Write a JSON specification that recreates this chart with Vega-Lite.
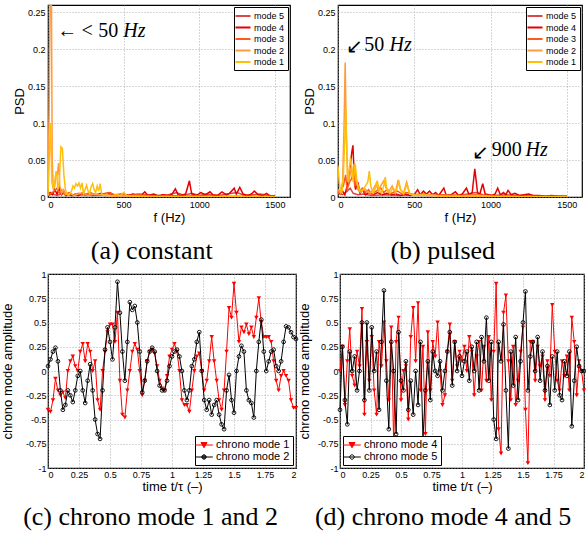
{
"$schema": "https://vega.github.io/schema/vega-lite/v6.json",
"background": "white",
"padding": {"left": 0, "top": 4, "right": 2, "bottom": 2},
"datasets": {
"psdA": [
{"f":0,"mode":"mode 5","psd":0.002},{"f":30,"mode":"mode 5","psd":0.004},{"f":60,"mode":"mode 5","psd":0.002},{"f":100,"mode":"mode 5","psd":0.005},{"f":150,"mode":"mode 5","psd":0.002},{"f":200,"mode":"mode 5","psd":0.003},{"f":300,"mode":"mode 5","psd":0.002},{"f":400,"mode":"mode 5","psd":0.003},{"f":500,"mode":"mode 5","psd":0.002},{"f":600,"mode":"mode 5","psd":0.004},{"f":700,"mode":"mode 5","psd":0.002},{"f":800,"mode":"mode 5","psd":0.003},{"f":850,"mode":"mode 5","psd":0.006},{"f":900,"mode":"mode 5","psd":0.002},{"f":950,"mode":"mode 5","psd":0.005},{"f":1000,"mode":"mode 5","psd":0.002},{"f":1050,"mode":"mode 5","psd":0.004},{"f":1100,"mode":"mode 5","psd":0.002},{"f":1150,"mode":"mode 5","psd":0.003},{"f":1250,"mode":"mode 5","psd":0.006},{"f":1300,"mode":"mode 5","psd":0.002},{"f":1400,"mode":"mode 5","psd":0.004},{"f":1500,"mode":"mode 5","psd":0.001},
{"f":0,"mode":"mode 4","psd":0.004},{"f":15,"mode":"mode 4","psd":0.006},{"f":30,"mode":"mode 4","psd":0.003},{"f":45,"mode":"mode 4","psd":0.01},{"f":60,"mode":"mode 4","psd":0.004},{"f":75,"mode":"mode 4","psd":0.012},{"f":90,"mode":"mode 4","psd":0.003},{"f":105,"mode":"mode 4","psd":0.008},{"f":120,"mode":"mode 4","psd":0.002},{"f":140,"mode":"mode 4","psd":0.005},{"f":160,"mode":"mode 4","psd":0.002},{"f":180,"mode":"mode 4","psd":0.004},{"f":200,"mode":"mode 4","psd":0.002},{"f":230,"mode":"mode 4","psd":0.006},{"f":260,"mode":"mode 4","psd":0.002},{"f":290,"mode":"mode 4","psd":0.004},{"f":320,"mode":"mode 4","psd":0.003},{"f":350,"mode":"mode 4","psd":0.005},{"f":380,"mode":"mode 4","psd":0.002},{"f":410,"mode":"mode 4","psd":0.006},{"f":440,"mode":"mode 4","psd":0.002},{"f":470,"mode":"mode 4","psd":0.003},{"f":500,"mode":"mode 4","psd":0.004},{"f":530,"mode":"mode 4","psd":0.002},{"f":560,"mode":"mode 4","psd":0.004},{"f":590,"mode":"mode 4","psd":0.002},{"f":620,"mode":"mode 4","psd":0.003},{"f":640,"mode":"mode 4","psd":0.007},{"f":660,"mode":"mode 4","psd":0.002},{"f":700,"mode":"mode 4","psd":0.004},{"f":730,"mode":"mode 4","psd":0.001},{"f":760,"mode":"mode 4","psd":0.003},{"f":790,"mode":"mode 4","psd":0.002},{"f":820,"mode":"mode 4","psd":0.004},{"f":842,"mode":"mode 4","psd":0.011},{"f":860,"mode":"mode 4","psd":0.003},{"f":880,"mode":"mode 4","psd":0.002},{"f":910,"mode":"mode 4","psd":0.004},{"f":935,"mode":"mode 4","psd":0.022},{"f":950,"mode":"mode 4","psd":0.004},{"f":980,"mode":"mode 4","psd":0.002},{"f":1010,"mode":"mode 4","psd":0.006},{"f":1040,"mode":"mode 4","psd":0.003},{"f":1071,"mode":"mode 4","psd":0.007},{"f":1090,"mode":"mode 4","psd":0.003},{"f":1120,"mode":"mode 4","psd":0.002},{"f":1150,"mode":"mode 4","psd":0.007},{"f":1180,"mode":"mode 4","psd":0.003},{"f":1200,"mode":"mode 4","psd":0.005},{"f":1231,"mode":"mode 4","psd":0.012},{"f":1245,"mode":"mode 4","psd":0.004},{"f":1268,"mode":"mode 4","psd":0.013},{"f":1290,"mode":"mode 4","psd":0.004},{"f":1320,"mode":"mode 4","psd":0.002},{"f":1345,"mode":"mode 4","psd":0.004},{"f":1364,"mode":"mode 4","psd":0.008},{"f":1390,"mode":"mode 4","psd":0.003},{"f":1420,"mode":"mode 4","psd":0.002},{"f":1445,"mode":"mode 4","psd":0.005},{"f":1470,"mode":"mode 4","psd":0.001},{"f":1500,"mode":"mode 4","psd":0.002},
{"f":0,"mode":"mode 3","psd":0.003},{"f":20,"mode":"mode 3","psd":0.005},{"f":40,"mode":"mode 3","psd":0.008},{"f":60,"mode":"mode 3","psd":0.012},{"f":75,"mode":"mode 3","psd":0.005},{"f":90,"mode":"mode 3","psd":0.009},{"f":110,"mode":"mode 3","psd":0.003},{"f":140,"mode":"mode 3","psd":0.006},{"f":170,"mode":"mode 3","psd":0.002},{"f":200,"mode":"mode 3","psd":0.005},{"f":240,"mode":"mode 3","psd":0.003},{"f":280,"mode":"mode 3","psd":0.006},{"f":320,"mode":"mode 3","psd":0.002},{"f":360,"mode":"mode 3","psd":0.004},{"f":400,"mode":"mode 3","psd":0.006},{"f":440,"mode":"mode 3","psd":0.003},{"f":480,"mode":"mode 3","psd":0.004},{"f":520,"mode":"mode 3","psd":0.002},{"f":600,"mode":"mode 3","psd":0.003},{"f":700,"mode":"mode 3","psd":0.001},{"f":800,"mode":"mode 3","psd":0.002},{"f":900,"mode":"mode 3","psd":0.001},{"f":1000,"mode":"mode 3","psd":0.002},{"f":1100,"mode":"mode 3","psd":0.001},{"f":1300,"mode":"mode 3","psd":0.001},{"f":1500,"mode":"mode 3","psd":0.001},
{"f":0,"mode":"mode 2","psd":0.02},{"f":8,"mode":"mode 2","psd":0.12},{"f":15,"mode":"mode 2","psd":0.3},{"f":22,"mode":"mode 2","psd":0.3},{"f":28,"mode":"mode 2","psd":0.05},{"f":35,"mode":"mode 2","psd":0.01},{"f":45,"mode":"mode 2","psd":0.015},{"f":55,"mode":"mode 2","psd":0.035},{"f":62,"mode":"mode 2","psd":0.03},{"f":70,"mode":"mode 2","psd":0.046},{"f":78,"mode":"mode 2","psd":0.015},{"f":90,"mode":"mode 2","psd":0.005},{"f":100,"mode":"mode 2","psd":0.01},{"f":115,"mode":"mode 2","psd":0.004},{"f":130,"mode":"mode 2","psd":0.003},{"f":150,"mode":"mode 2","psd":0.005},{"f":170,"mode":"mode 2","psd":0.002},{"f":200,"mode":"mode 2","psd":0.004},{"f":230,"mode":"mode 2","psd":0.006},{"f":260,"mode":"mode 2","psd":0.002},{"f":300,"mode":"mode 2","psd":0.004},{"f":350,"mode":"mode 2","psd":0.003},{"f":400,"mode":"mode 2","psd":0.002},{"f":450,"mode":"mode 2","psd":0.001},{"f":500,"mode":"mode 2","psd":0.002},{"f":600,"mode":"mode 2","psd":0.001},{"f":800,"mode":"mode 2","psd":0.0005},{"f":1000,"mode":"mode 2","psd":0.0003},{"f":1500,"mode":"mode 2","psd":0.0002},
{"f":0,"mode":"mode 1","psd":0.002},{"f":10,"mode":"mode 1","psd":0.06},{"f":18,"mode":"mode 1","psd":0.1},{"f":25,"mode":"mode 1","psd":0.02},{"f":35,"mode":"mode 1","psd":0.012},{"f":42,"mode":"mode 1","psd":0.016},{"f":50,"mode":"mode 1","psd":0.03},{"f":58,"mode":"mode 1","psd":0.035},{"f":65,"mode":"mode 1","psd":0.01},{"f":75,"mode":"mode 1","psd":0.02},{"f":85,"mode":"mode 1","psd":0.068},{"f":95,"mode":"mode 1","psd":0.066},{"f":105,"mode":"mode 1","psd":0.03},{"f":115,"mode":"mode 1","psd":0.01},{"f":125,"mode":"mode 1","psd":0.004},{"f":140,"mode":"mode 1","psd":0.003},{"f":155,"mode":"mode 1","psd":0.008},{"f":165,"mode":"mode 1","psd":0.015},{"f":175,"mode":"mode 1","psd":0.012},{"f":185,"mode":"mode 1","psd":0.018},{"f":195,"mode":"mode 1","psd":0.015},{"f":205,"mode":"mode 1","psd":0.019},{"f":215,"mode":"mode 1","psd":0.012},{"f":225,"mode":"mode 1","psd":0.019},{"f":235,"mode":"mode 1","psd":0.005},{"f":245,"mode":"mode 1","psd":0.01},{"f":255,"mode":"mode 1","psd":0.016},{"f":265,"mode":"mode 1","psd":0.008},{"f":275,"mode":"mode 1","psd":0.004},{"f":285,"mode":"mode 1","psd":0.014},{"f":295,"mode":"mode 1","psd":0.018},{"f":305,"mode":"mode 1","psd":0.01},{"f":315,"mode":"mode 1","psd":0.006},{"f":325,"mode":"mode 1","psd":0.015},{"f":335,"mode":"mode 1","psd":0.008},{"f":345,"mode":"mode 1","psd":0.018},{"f":355,"mode":"mode 1","psd":0.004},{"f":370,"mode":"mode 1","psd":0.002},{"f":390,"mode":"mode 1","psd":0.003},{"f":420,"mode":"mode 1","psd":0.001},{"f":450,"mode":"mode 1","psd":0.003},{"f":480,"mode":"mode 1","psd":0.002},{"f":500,"mode":"mode 1","psd":0.006},{"f":520,"mode":"mode 1","psd":0.002},{"f":560,"mode":"mode 1","psd":0.001},{"f":600,"mode":"mode 1","psd":0.001},{"f":700,"mode":"mode 1","psd":0.0005},{"f":800,"mode":"mode 1","psd":0.0005},{"f":1000,"mode":"mode 1","psd":0.0003},{"f":1200,"mode":"mode 1","psd":0.0003},{"f":1500,"mode":"mode 1","psd":0.0002}
],
"psdB": [
{"f":0,"mode":"mode 5","psd":0.005},{"f":30,"mode":"mode 5","psd":0.003},{"f":60,"mode":"mode 5","psd":0.008},{"f":80,"mode":"mode 5","psd":0.012},{"f":100,"mode":"mode 5","psd":0.005},{"f":130,"mode":"mode 5","psd":0.003},{"f":170,"mode":"mode 5","psd":0.004},{"f":220,"mode":"mode 5","psd":0.002},{"f":300,"mode":"mode 5","psd":0.003},{"f":400,"mode":"mode 5","psd":0.002},{"f":500,"mode":"mode 5","psd":0.003},{"f":600,"mode":"mode 5","psd":0.002},{"f":700,"mode":"mode 5","psd":0.003},{"f":800,"mode":"mode 5","psd":0.002},{"f":850,"mode":"mode 5","psd":0.004},{"f":900,"mode":"mode 5","psd":0.006},{"f":950,"mode":"mode 5","psd":0.003},{"f":1000,"mode":"mode 5","psd":0.002},{"f":1100,"mode":"mode 5","psd":0.003},{"f":1200,"mode":"mode 5","psd":0.002},{"f":1300,"mode":"mode 5","psd":0.001},{"f":1500,"mode":"mode 5","psd":0.001},
{"f":0,"mode":"mode 4","psd":0.01},{"f":15,"mode":"mode 4","psd":0.004},{"f":30,"mode":"mode 4","psd":0.008},{"f":45,"mode":"mode 4","psd":0.003},{"f":60,"mode":"mode 4","psd":0.015},{"f":75,"mode":"mode 4","psd":0.03},{"f":90,"mode":"mode 4","psd":0.06},{"f":98,"mode":"mode 4","psd":0.07},{"f":106,"mode":"mode 4","psd":0.03},{"f":115,"mode":"mode 4","psd":0.01},{"f":130,"mode":"mode 4","psd":0.02},{"f":145,"mode":"mode 4","psd":0.005},{"f":160,"mode":"mode 4","psd":0.01},{"f":180,"mode":"mode 4","psd":0.003},{"f":200,"mode":"mode 4","psd":0.006},{"f":230,"mode":"mode 4","psd":0.003},{"f":260,"mode":"mode 4","psd":0.006},{"f":290,"mode":"mode 4","psd":0.003},{"f":320,"mode":"mode 4","psd":0.005},{"f":350,"mode":"mode 4","psd":0.003},{"f":380,"mode":"mode 4","psd":0.004},{"f":410,"mode":"mode 4","psd":0.002},{"f":440,"mode":"mode 4","psd":0.004},{"f":470,"mode":"mode 4","psd":0.002},{"f":500,"mode":"mode 4","psd":0.003},{"f":522,"mode":"mode 4","psd":0.01},{"f":540,"mode":"mode 4","psd":0.003},{"f":560,"mode":"mode 4","psd":0.008},{"f":580,"mode":"mode 4","psd":0.004},{"f":600,"mode":"mode 4","psd":0.008},{"f":620,"mode":"mode 4","psd":0.003},{"f":640,"mode":"mode 4","psd":0.006},{"f":660,"mode":"mode 4","psd":0.002},{"f":694,"mode":"mode 4","psd":0.012},{"f":710,"mode":"mode 4","psd":0.002},{"f":740,"mode":"mode 4","psd":0.003},{"f":770,"mode":"mode 4","psd":0.007},{"f":790,"mode":"mode 4","psd":0.002},{"f":815,"mode":"mode 4","psd":0.004},{"f":842,"mode":"mode 4","psd":0.012},{"f":860,"mode":"mode 4","psd":0.003},{"f":880,"mode":"mode 4","psd":0.006},{"f":897,"mode":"mode 4","psd":0.038},{"f":915,"mode":"mode 4","psd":0.006},{"f":930,"mode":"mode 4","psd":0.004},{"f":949,"mode":"mode 4","psd":0.018},{"f":965,"mode":"mode 4","psd":0.004},{"f":990,"mode":"mode 4","psd":0.003},{"f":1010,"mode":"mode 4","psd":0.002},{"f":1030,"mode":"mode 4","psd":0.004},{"f":1047,"mode":"mode 4","psd":0.012},{"f":1065,"mode":"mode 4","psd":0.003},{"f":1085,"mode":"mode 4","psd":0.006},{"f":1100,"mode":"mode 4","psd":0.003},{"f":1115,"mode":"mode 4","psd":0.009},{"f":1135,"mode":"mode 4","psd":0.003},{"f":1160,"mode":"mode 4","psd":0.005},{"f":1190,"mode":"mode 4","psd":0.002},{"f":1220,"mode":"mode 4","psd":0.003},{"f":1250,"mode":"mode 4","psd":0.004},{"f":1280,"mode":"mode 4","psd":0.002},{"f":1320,"mode":"mode 4","psd":0.002},{"f":1360,"mode":"mode 4","psd":0.001},{"f":1400,"mode":"mode 4","psd":0.002},{"f":1450,"mode":"mode 4","psd":0.001},{"f":1500,"mode":"mode 4","psd":0.001},
{"f":0,"mode":"mode 3","psd":0.005},{"f":20,"mode":"mode 3","psd":0.01},{"f":35,"mode":"mode 3","psd":0.015},{"f":50,"mode":"mode 3","psd":0.03},{"f":60,"mode":"mode 3","psd":0.01},{"f":75,"mode":"mode 3","psd":0.02},{"f":90,"mode":"mode 3","psd":0.025},{"f":100,"mode":"mode 3","psd":0.035},{"f":110,"mode":"mode 3","psd":0.015},{"f":125,"mode":"mode 3","psd":0.02},{"f":140,"mode":"mode 3","psd":0.008},{"f":160,"mode":"mode 3","psd":0.012},{"f":180,"mode":"mode 3","psd":0.006},{"f":200,"mode":"mode 3","psd":0.01},{"f":220,"mode":"mode 3","psd":0.004},{"f":250,"mode":"mode 3","psd":0.008},{"f":280,"mode":"mode 3","psd":0.012},{"f":300,"mode":"mode 3","psd":0.006},{"f":320,"mode":"mode 3","psd":0.01},{"f":340,"mode":"mode 3","psd":0.004},{"f":360,"mode":"mode 3","psd":0.006},{"f":390,"mode":"mode 3","psd":0.008},{"f":420,"mode":"mode 3","psd":0.004},{"f":450,"mode":"mode 3","psd":0.006},{"f":500,"mode":"mode 3","psd":0.003},{"f":550,"mode":"mode 3","psd":0.004},{"f":600,"mode":"mode 3","psd":0.003},{"f":650,"mode":"mode 3","psd":0.002},{"f":700,"mode":"mode 3","psd":0.003},{"f":800,"mode":"mode 3","psd":0.002},{"f":900,"mode":"mode 3","psd":0.003},{"f":1000,"mode":"mode 3","psd":0.002},{"f":1100,"mode":"mode 3","psd":0.001},{"f":1300,"mode":"mode 3","psd":0.001},{"f":1500,"mode":"mode 3","psd":0.001},
{"f":0,"mode":"mode 2","psd":0.01},{"f":15,"mode":"mode 2","psd":0.005},{"f":30,"mode":"mode 2","psd":0.02},{"f":40,"mode":"mode 2","psd":0.1},{"f":47,"mode":"mode 2","psd":0.182},{"f":54,"mode":"mode 2","psd":0.09},{"f":62,"mode":"mode 2","psd":0.03},{"f":72,"mode":"mode 2","psd":0.02},{"f":85,"mode":"mode 2","psd":0.04},{"f":95,"mode":"mode 2","psd":0.03},{"f":105,"mode":"mode 2","psd":0.045},{"f":115,"mode":"mode 2","psd":0.03},{"f":130,"mode":"mode 2","psd":0.01},{"f":150,"mode":"mode 2","psd":0.006},{"f":170,"mode":"mode 2","psd":0.012},{"f":190,"mode":"mode 2","psd":0.008},{"f":210,"mode":"mode 2","psd":0.005},{"f":230,"mode":"mode 2","psd":0.01},{"f":250,"mode":"mode 2","psd":0.018},{"f":265,"mode":"mode 2","psd":0.008},{"f":280,"mode":"mode 2","psd":0.015},{"f":300,"mode":"mode 2","psd":0.022},{"f":315,"mode":"mode 2","psd":0.012},{"f":335,"mode":"mode 2","psd":0.008},{"f":355,"mode":"mode 2","psd":0.015},{"f":375,"mode":"mode 2","psd":0.005},{"f":395,"mode":"mode 2","psd":0.023},{"f":410,"mode":"mode 2","psd":0.01},{"f":430,"mode":"mode 2","psd":0.005},{"f":450,"mode":"mode 2","psd":0.02},{"f":470,"mode":"mode 2","psd":0.004},{"f":500,"mode":"mode 2","psd":0.003},{"f":550,"mode":"mode 2","psd":0.002},{"f":600,"mode":"mode 2","psd":0.003},{"f":700,"mode":"mode 2","psd":0.001},{"f":800,"mode":"mode 2","psd":0.001},{"f":1000,"mode":"mode 2","psd":0.0005},{"f":1500,"mode":"mode 2","psd":0.0003},
{"f":0,"mode":"mode 1","psd":0.042},{"f":8,"mode":"mode 1","psd":0.02},{"f":15,"mode":"mode 1","psd":0.01},{"f":25,"mode":"mode 1","psd":0.005},{"f":35,"mode":"mode 1","psd":0.03},{"f":45,"mode":"mode 1","psd":0.08},{"f":51,"mode":"mode 1","psd":0.121},{"f":58,"mode":"mode 1","psd":0.06},{"f":65,"mode":"mode 1","psd":0.02},{"f":75,"mode":"mode 1","psd":0.04},{"f":82,"mode":"mode 1","psd":0.053},{"f":90,"mode":"mode 1","psd":0.04},{"f":100,"mode":"mode 1","psd":0.02},{"f":113,"mode":"mode 1","psd":0.045},{"f":125,"mode":"mode 1","psd":0.02},{"f":140,"mode":"mode 1","psd":0.01},{"f":160,"mode":"mode 1","psd":0.008},{"f":180,"mode":"mode 1","psd":0.015},{"f":195,"mode":"mode 1","psd":0.02},{"f":205,"mode":"mode 1","psd":0.035},{"f":215,"mode":"mode 1","psd":0.015},{"f":230,"mode":"mode 1","psd":0.005},{"f":245,"mode":"mode 1","psd":0.012},{"f":257,"mode":"mode 1","psd":0.022},{"f":270,"mode":"mode 1","psd":0.01},{"f":285,"mode":"mode 1","psd":0.005},{"f":300,"mode":"mode 1","psd":0.015},{"f":310,"mode":"mode 1","psd":0.027},{"f":320,"mode":"mode 1","psd":0.01},{"f":340,"mode":"mode 1","psd":0.005},{"f":360,"mode":"mode 1","psd":0.012},{"f":380,"mode":"mode 1","psd":0.008},{"f":400,"mode":"mode 1","psd":0.02},{"f":410,"mode":"mode 1","psd":0.01},{"f":430,"mode":"mode 1","psd":0.004},{"f":452,"mode":"mode 1","psd":0.018},{"f":470,"mode":"mode 1","psd":0.004},{"f":500,"mode":"mode 1","psd":0.002},{"f":550,"mode":"mode 1","psd":0.003},{"f":600,"mode":"mode 1","psd":0.002},{"f":700,"mode":"mode 1","psd":0.001},{"f":800,"mode":"mode 1","psd":0.001},{"f":900,"mode":"mode 1","psd":0.002},{"f":1000,"mode":"mode 1","psd":0.001},{"f":1200,"mode":"mode 1","psd":0.0005},{"f":1500,"mode":"mode 1","psd":0.0003}
],
"notes": [
{"panel":"a","f":61,"psd":0.2165,"label":"←","style":"r"},
{"panel":"a","f":221,"psd":0.2165,"label":"<","style":"r"},
{"panel":"a","f":332,"psd":0.2165,"label":"50","style":"r"},
{"panel":"a","f":498,"psd":0.2165,"label":"Hz","style":"i"},
{"panel":"b","f":55,"psd":0.195,"label":"↙","style":"r"},
{"panel":"b","f":172,"psd":0.198,"label":"50","style":"r"},
{"panel":"b","f":338,"psd":0.198,"label":"Hz","style":"i"},
{"panel":"b","f":880,"psd":0.051,"label":"↙","style":"r"},
{"panel":"b","f":1008,"psd":0.055,"label":"900","style":"r"},
{"panel":"b","f":1230,"psd":0.055,"label":"Hz","style":"i"}
],
"chronoC": [
{"t":0,"s":"chrono mode 1","amp":-0.4},{"t":0.02,"s":"chrono mode 1","amp":-0.42},{"t":0.04,"s":"chrono mode 1","amp":-0.3},{"t":0.06,"s":"chrono mode 1","amp":-0.08},{"t":0.08,"s":"chrono mode 1","amp":-0.2},{"t":0.1,"s":"chrono mode 1","amp":-0.25},{"t":0.12,"s":"chrono mode 1","amp":-0.22},{"t":0.14,"s":"chrono mode 1","amp":-0.28},{"t":0.16,"s":"chrono mode 1","amp":0},{"t":0.18,"s":"chrono mode 1","amp":0.1},{"t":0.2,"s":"chrono mode 1","amp":0.15},{"t":0.22,"s":"chrono mode 1","amp":0.05},{"t":0.24,"s":"chrono mode 1","amp":0},{"t":0.26,"s":"chrono mode 1","amp":0.2},{"t":0.28,"s":"chrono mode 1","amp":0.28},{"t":0.3,"s":"chrono mode 1","amp":0.1},{"t":0.32,"s":"chrono mode 1","amp":0.28},{"t":0.34,"s":"chrono mode 1","amp":0.2},{"t":0.36,"s":"chrono mode 1","amp":0},{"t":0.38,"s":"chrono mode 1","amp":0.1},{"t":0.4,"s":"chrono mode 1","amp":-0.3},{"t":0.42,"s":"chrono mode 1","amp":-0.4},{"t":0.44,"s":"chrono mode 1","amp":0},{"t":0.46,"s":"chrono mode 1","amp":0.2},{"t":0.48,"s":"chrono mode 1","amp":0.4},{"t":0.5,"s":"chrono mode 1","amp":0.48},{"t":0.52,"s":"chrono mode 1","amp":0.48},{"t":0.54,"s":"chrono mode 1","amp":0.3},{"t":0.56,"s":"chrono mode 1","amp":0.6},{"t":0.58,"s":"chrono mode 1","amp":-0.1},{"t":0.6,"s":"chrono mode 1","amp":-0.45},{"t":0.62,"s":"chrono mode 1","amp":-0.48},{"t":0.64,"s":"chrono mode 1","amp":-0.2},{"t":0.66,"s":"chrono mode 1","amp":0},{"t":0.68,"s":"chrono mode 1","amp":0.2},{"t":0.7,"s":"chrono mode 1","amp":0.28},{"t":0.72,"s":"chrono mode 1","amp":0.22},{"t":0.74,"s":"chrono mode 1","amp":0},{"t":0.76,"s":"chrono mode 1","amp":-0.25},{"t":0.78,"s":"chrono mode 1","amp":-0.1},{"t":0.8,"s":"chrono mode 1","amp":0.1},{"t":0.82,"s":"chrono mode 1","amp":0.2},{"t":0.84,"s":"chrono mode 1","amp":0.22},{"t":0.86,"s":"chrono mode 1","amp":0.18},{"t":0.88,"s":"chrono mode 1","amp":0.05},{"t":0.9,"s":"chrono mode 1","amp":-0.1},{"t":0.92,"s":"chrono mode 1","amp":-0.18},{"t":0.94,"s":"chrono mode 1","amp":-0.2},{"t":0.96,"s":"chrono mode 1","amp":-0.05},{"t":0.98,"s":"chrono mode 1","amp":0.15},{"t":1,"s":"chrono mode 1","amp":0.22},{"t":1.02,"s":"chrono mode 1","amp":0.28},{"t":1.04,"s":"chrono mode 1","amp":0.2},{"t":1.06,"s":"chrono mode 1","amp":0},{"t":1.08,"s":"chrono mode 1","amp":-0.3},{"t":1.1,"s":"chrono mode 1","amp":-0.35},{"t":1.12,"s":"chrono mode 1","amp":-0.35},{"t":1.14,"s":"chrono mode 1","amp":-0.42},{"t":1.16,"s":"chrono mode 1","amp":-0.2},{"t":1.18,"s":"chrono mode 1","amp":0},{"t":1.2,"s":"chrono mode 1","amp":0.15},{"t":1.22,"s":"chrono mode 1","amp":0.18},{"t":1.24,"s":"chrono mode 1","amp":0},{"t":1.26,"s":"chrono mode 1","amp":-0.2},{"t":1.28,"s":"chrono mode 1","amp":-0.1},{"t":1.3,"s":"chrono mode 1","amp":0.1},{"t":1.32,"s":"chrono mode 1","amp":0.35},{"t":1.34,"s":"chrono mode 1","amp":0.1},{"t":1.36,"s":"chrono mode 1","amp":-0.1},{"t":1.38,"s":"chrono mode 1","amp":-0.3},{"t":1.4,"s":"chrono mode 1","amp":-0.4},{"t":1.42,"s":"chrono mode 1","amp":-0.2},{"t":1.44,"s":"chrono mode 1","amp":0.2},{"t":1.46,"s":"chrono mode 1","amp":0.65},{"t":1.48,"s":"chrono mode 1","amp":0.55},{"t":1.5,"s":"chrono mode 1","amp":0.9},{"t":1.52,"s":"chrono mode 1","amp":0.6},{"t":1.54,"s":"chrono mode 1","amp":0.3},{"t":1.56,"s":"chrono mode 1","amp":0.45},{"t":1.58,"s":"chrono mode 1","amp":0.4},{"t":1.6,"s":"chrono mode 1","amp":0.48},{"t":1.62,"s":"chrono mode 1","amp":0.38},{"t":1.64,"s":"chrono mode 1","amp":0.45},{"t":1.66,"s":"chrono mode 1","amp":0.35},{"t":1.68,"s":"chrono mode 1","amp":0.55},{"t":1.7,"s":"chrono mode 1","amp":0.75},{"t":1.72,"s":"chrono mode 1","amp":0.5},{"t":1.74,"s":"chrono mode 1","amp":0.35},{"t":1.76,"s":"chrono mode 1","amp":0.35},{"t":1.78,"s":"chrono mode 1","amp":0.35},{"t":1.8,"s":"chrono mode 1","amp":0.3},{"t":1.82,"s":"chrono mode 1","amp":0.1},{"t":1.84,"s":"chrono mode 1","amp":-0.1},{"t":1.86,"s":"chrono mode 1","amp":-0.2},{"t":1.88,"s":"chrono mode 1","amp":-0.05},{"t":1.9,"s":"chrono mode 1","amp":0},{"t":1.92,"s":"chrono mode 1","amp":-0.05},{"t":1.94,"s":"chrono mode 1","amp":-0.1},{"t":1.96,"s":"chrono mode 1","amp":-0.3},{"t":1.98,"s":"chrono mode 1","amp":-0.38},{"t":2,"s":"chrono mode 1","amp":-0.38},
{"t":0,"s":"chrono mode 2","amp":0.05},{"t":0.02,"s":"chrono mode 2","amp":0.12},{"t":0.04,"s":"chrono mode 2","amp":0.2},{"t":0.06,"s":"chrono mode 2","amp":0.24},{"t":0.08,"s":"chrono mode 2","amp":0.1},{"t":0.1,"s":"chrono mode 2","amp":-0.2},{"t":0.12,"s":"chrono mode 2","amp":-0.4},{"t":0.14,"s":"chrono mode 2","amp":-0.35},{"t":0.16,"s":"chrono mode 2","amp":-0.2},{"t":0.18,"s":"chrono mode 2","amp":-0.25},{"t":0.2,"s":"chrono mode 2","amp":-0.32},{"t":0.22,"s":"chrono mode 2","amp":-0.2},{"t":0.24,"s":"chrono mode 2","amp":-0.05},{"t":0.26,"s":"chrono mode 2","amp":0},{"t":0.28,"s":"chrono mode 2","amp":-0.2},{"t":0.3,"s":"chrono mode 2","amp":-0.33},{"t":0.32,"s":"chrono mode 2","amp":-0.1},{"t":0.34,"s":"chrono mode 2","amp":0.07},{"t":0.36,"s":"chrono mode 2","amp":-0.2},{"t":0.38,"s":"chrono mode 2","amp":-0.5},{"t":0.4,"s":"chrono mode 2","amp":-0.65},{"t":0.42,"s":"chrono mode 2","amp":-0.7},{"t":0.44,"s":"chrono mode 2","amp":-0.2},{"t":0.46,"s":"chrono mode 2","amp":0.22},{"t":0.48,"s":"chrono mode 2","amp":0.45},{"t":0.5,"s":"chrono mode 2","amp":0.3},{"t":0.52,"s":"chrono mode 2","amp":0.12},{"t":0.54,"s":"chrono mode 2","amp":0.45},{"t":0.56,"s":"chrono mode 2","amp":0.92},{"t":0.58,"s":"chrono mode 2","amp":0.6},{"t":0.6,"s":"chrono mode 2","amp":0.2},{"t":0.62,"s":"chrono mode 2","amp":-0.1},{"t":0.64,"s":"chrono mode 2","amp":0.3},{"t":0.66,"s":"chrono mode 2","amp":0.71},{"t":0.68,"s":"chrono mode 2","amp":0.63},{"t":0.7,"s":"chrono mode 2","amp":0.67},{"t":0.72,"s":"chrono mode 2","amp":0.5},{"t":0.74,"s":"chrono mode 2","amp":0.2},{"t":0.76,"s":"chrono mode 2","amp":-0.22},{"t":0.78,"s":"chrono mode 2","amp":-0.1},{"t":0.8,"s":"chrono mode 2","amp":0.1},{"t":0.82,"s":"chrono mode 2","amp":0.2},{"t":0.84,"s":"chrono mode 2","amp":0.24},{"t":0.86,"s":"chrono mode 2","amp":0.2},{"t":0.88,"s":"chrono mode 2","amp":0},{"t":0.9,"s":"chrono mode 2","amp":-0.15},{"t":0.92,"s":"chrono mode 2","amp":-0.2},{"t":0.94,"s":"chrono mode 2","amp":-0.2},{"t":0.96,"s":"chrono mode 2","amp":-0.1},{"t":0.98,"s":"chrono mode 2","amp":0.05},{"t":1,"s":"chrono mode 2","amp":0.15},{"t":1.02,"s":"chrono mode 2","amp":0.2},{"t":1.04,"s":"chrono mode 2","amp":0.22},{"t":1.06,"s":"chrono mode 2","amp":0.15},{"t":1.08,"s":"chrono mode 2","amp":0},{"t":1.1,"s":"chrono mode 2","amp":-0.2},{"t":1.12,"s":"chrono mode 2","amp":-0.3},{"t":1.14,"s":"chrono mode 2","amp":-0.2},{"t":1.16,"s":"chrono mode 2","amp":0.05},{"t":1.18,"s":"chrono mode 2","amp":0.12},{"t":1.2,"s":"chrono mode 2","amp":0.3},{"t":1.22,"s":"chrono mode 2","amp":0.4},{"t":1.24,"s":"chrono mode 2","amp":0},{"t":1.26,"s":"chrono mode 2","amp":-0.3},{"t":1.28,"s":"chrono mode 2","amp":-0.4},{"t":1.3,"s":"chrono mode 2","amp":-0.3},{"t":1.32,"s":"chrono mode 2","amp":-0.45},{"t":1.34,"s":"chrono mode 2","amp":-0.35},{"t":1.36,"s":"chrono mode 2","amp":-0.3},{"t":1.38,"s":"chrono mode 2","amp":-0.45},{"t":1.4,"s":"chrono mode 2","amp":-0.55},{"t":1.42,"s":"chrono mode 2","amp":-0.6},{"t":1.44,"s":"chrono mode 2","amp":-0.2},{"t":1.46,"s":"chrono mode 2","amp":-0.04},{"t":1.48,"s":"chrono mode 2","amp":-0.3},{"t":1.5,"s":"chrono mode 2","amp":-0.43},{"t":1.52,"s":"chrono mode 2","amp":0},{"t":1.54,"s":"chrono mode 2","amp":0.15},{"t":1.56,"s":"chrono mode 2","amp":0.26},{"t":1.58,"s":"chrono mode 2","amp":0.2},{"t":1.6,"s":"chrono mode 2","amp":-0.2},{"t":1.62,"s":"chrono mode 2","amp":-0.3},{"t":1.64,"s":"chrono mode 2","amp":-0.33},{"t":1.66,"s":"chrono mode 2","amp":-0.48},{"t":1.68,"s":"chrono mode 2","amp":0},{"t":1.7,"s":"chrono mode 2","amp":0.3},{"t":1.72,"s":"chrono mode 2","amp":0.53},{"t":1.74,"s":"chrono mode 2","amp":0.2},{"t":1.76,"s":"chrono mode 2","amp":0},{"t":1.78,"s":"chrono mode 2","amp":0.1},{"t":1.8,"s":"chrono mode 2","amp":0.2},{"t":1.82,"s":"chrono mode 2","amp":0.22},{"t":1.84,"s":"chrono mode 2","amp":0.05},{"t":1.86,"s":"chrono mode 2","amp":0},{"t":1.88,"s":"chrono mode 2","amp":0.1},{"t":1.9,"s":"chrono mode 2","amp":0.3},{"t":1.92,"s":"chrono mode 2","amp":0.46},{"t":1.94,"s":"chrono mode 2","amp":0.45},{"t":1.96,"s":"chrono mode 2","amp":0.4},{"t":1.98,"s":"chrono mode 2","amp":0.35},{"t":2,"s":"chrono mode 2","amp":0.33}
],
"chronoD": [
{"t":0,"s":"chrono mode 4","amp":0},{"t":0.02,"s":"chrono mode 4","amp":0.25},{"t":0.04,"s":"chrono mode 4","amp":-0.35},{"t":0.06,"s":"chrono mode 4","amp":0.1},{"t":0.08,"s":"chrono mode 4","amp":0.43},{"t":0.1,"s":"chrono mode 4","amp":-0.05},{"t":0.12,"s":"chrono mode 4","amp":-0.15},{"t":0.14,"s":"chrono mode 4","amp":0.2},{"t":0.16,"s":"chrono mode 4","amp":0.05},{"t":0.18,"s":"chrono mode 4","amp":0.64},{"t":0.2,"s":"chrono mode 4","amp":-0.45},{"t":0.22,"s":"chrono mode 4","amp":0.3},{"t":0.24,"s":"chrono mode 4","amp":-0.1},{"t":0.26,"s":"chrono mode 4","amp":0.35},{"t":0.28,"s":"chrono mode 4","amp":-0.2},{"t":0.3,"s":"chrono mode 4","amp":-0.45},{"t":0.32,"s":"chrono mode 4","amp":0.3},{"t":0.34,"s":"chrono mode 4","amp":0.05},{"t":0.36,"s":"chrono mode 4","amp":0.5},{"t":0.38,"s":"chrono mode 4","amp":0.1},{"t":0.4,"s":"chrono mode 4","amp":-0.3},{"t":0.42,"s":"chrono mode 4","amp":0.45},{"t":0.44,"s":"chrono mode 4","amp":-0.75},{"t":0.46,"s":"chrono mode 4","amp":0.3},{"t":0.48,"s":"chrono mode 4","amp":0.55},{"t":0.5,"s":"chrono mode 4","amp":-0.3},{"t":0.52,"s":"chrono mode 4","amp":0},{"t":0.54,"s":"chrono mode 4","amp":0.05},{"t":0.56,"s":"chrono mode 4","amp":-0.5},{"t":0.58,"s":"chrono mode 4","amp":0.35},{"t":0.6,"s":"chrono mode 4","amp":0.65},{"t":0.62,"s":"chrono mode 4","amp":0.1},{"t":0.64,"s":"chrono mode 4","amp":0.7},{"t":0.66,"s":"chrono mode 4","amp":-0.2},{"t":0.68,"s":"chrono mode 4","amp":0.25},{"t":0.7,"s":"chrono mode 4","amp":-0.65},{"t":0.72,"s":"chrono mode 4","amp":0.4},{"t":0.74,"s":"chrono mode 4","amp":-0.2},{"t":0.76,"s":"chrono mode 4","amp":0.3},{"t":0.78,"s":"chrono mode 4","amp":0.15},{"t":0.8,"s":"chrono mode 4","amp":0.5},{"t":0.82,"s":"chrono mode 4","amp":0},{"t":0.84,"s":"chrono mode 4","amp":-0.35},{"t":0.86,"s":"chrono mode 4","amp":-0.25},{"t":0.88,"s":"chrono mode 4","amp":0.2},{"t":0.9,"s":"chrono mode 4","amp":0.48},{"t":0.92,"s":"chrono mode 4","amp":-0.1},{"t":0.94,"s":"chrono mode 4","amp":0.3},{"t":0.96,"s":"chrono mode 4","amp":0.05},{"t":0.98,"s":"chrono mode 4","amp":0.2},{"t":1,"s":"chrono mode 4","amp":0.1},{"t":1.02,"s":"chrono mode 4","amp":0.25},{"t":1.04,"s":"chrono mode 4","amp":0},{"t":1.06,"s":"chrono mode 4","amp":0.35},{"t":1.08,"s":"chrono mode 4","amp":0.2},{"t":1.1,"s":"chrono mode 4","amp":-0.25},{"t":1.12,"s":"chrono mode 4","amp":0.15},{"t":1.14,"s":"chrono mode 4","amp":0.3},{"t":1.16,"s":"chrono mode 4","amp":-0.2},{"t":1.18,"s":"chrono mode 4","amp":0.25},{"t":1.2,"s":"chrono mode 4","amp":-0.1},{"t":1.22,"s":"chrono mode 4","amp":0.35},{"t":1.24,"s":"chrono mode 4","amp":-0.3},{"t":1.26,"s":"chrono mode 4","amp":0.2},{"t":1.28,"s":"chrono mode 4","amp":0.9},{"t":1.3,"s":"chrono mode 4","amp":-0.6},{"t":1.32,"s":"chrono mode 4","amp":-0.85},{"t":1.34,"s":"chrono mode 4","amp":0.6},{"t":1.36,"s":"chrono mode 4","amp":0.78},{"t":1.38,"s":"chrono mode 4","amp":0.1},{"t":1.4,"s":"chrono mode 4","amp":-0.3},{"t":1.42,"s":"chrono mode 4","amp":0.25},{"t":1.44,"s":"chrono mode 4","amp":-0.35},{"t":1.46,"s":"chrono mode 4","amp":-0.1},{"t":1.48,"s":"chrono mode 4","amp":0.2},{"t":1.5,"s":"chrono mode 4","amp":0.45},{"t":1.52,"s":"chrono mode 4","amp":-0.4},{"t":1.54,"s":"chrono mode 4","amp":-0.95},{"t":1.56,"s":"chrono mode 4","amp":0.3},{"t":1.58,"s":"chrono mode 4","amp":0.3},{"t":1.6,"s":"chrono mode 4","amp":-0.1},{"t":1.62,"s":"chrono mode 4","amp":0.25},{"t":1.64,"s":"chrono mode 4","amp":0.05},{"t":1.66,"s":"chrono mode 4","amp":0.15},{"t":1.68,"s":"chrono mode 4","amp":-0.3},{"t":1.7,"s":"chrono mode 4","amp":0.1},{"t":1.72,"s":"chrono mode 4","amp":-0.05},{"t":1.74,"s":"chrono mode 4","amp":0.68},{"t":1.76,"s":"chrono mode 4","amp":0.2},{"t":1.78,"s":"chrono mode 4","amp":-0.1},{"t":1.8,"s":"chrono mode 4","amp":-0.2},{"t":1.82,"s":"chrono mode 4","amp":0.1},{"t":1.84,"s":"chrono mode 4","amp":-0.05},{"t":1.86,"s":"chrono mode 4","amp":0.15},{"t":1.88,"s":"chrono mode 4","amp":-0.2},{"t":1.9,"s":"chrono mode 4","amp":0.55},{"t":1.92,"s":"chrono mode 4","amp":0.3},{"t":1.94,"s":"chrono mode 4","amp":-0.25},{"t":1.96,"s":"chrono mode 4","amp":0.1},{"t":1.98,"s":"chrono mode 4","amp":0},{"t":2,"s":"chrono mode 4","amp":-0.2},
{"t":0,"s":"chrono mode 5","amp":-0.4},{"t":0.02,"s":"chrono mode 5","amp":0.25},{"t":0.04,"s":"chrono mode 5","amp":-0.3},{"t":0.06,"s":"chrono mode 5","amp":-0.55},{"t":0.08,"s":"chrono mode 5","amp":0.2},{"t":0.1,"s":"chrono mode 5","amp":0},{"t":0.12,"s":"chrono mode 5","amp":0.15},{"t":0.14,"s":"chrono mode 5","amp":-0.2},{"t":0.16,"s":"chrono mode 5","amp":0},{"t":0.18,"s":"chrono mode 5","amp":0.5},{"t":0.2,"s":"chrono mode 5","amp":-0.3},{"t":0.22,"s":"chrono mode 5","amp":0.5},{"t":0.24,"s":"chrono mode 5","amp":-0.2},{"t":0.26,"s":"chrono mode 5","amp":0.45},{"t":0.28,"s":"chrono mode 5","amp":0},{"t":0.3,"s":"chrono mode 5","amp":0.2},{"t":0.32,"s":"chrono mode 5","amp":-0.4},{"t":0.34,"s":"chrono mode 5","amp":0.3},{"t":0.36,"s":"chrono mode 5","amp":0.83},{"t":0.38,"s":"chrono mode 5","amp":-0.1},{"t":0.4,"s":"chrono mode 5","amp":-0.6},{"t":0.42,"s":"chrono mode 5","amp":0.3},{"t":0.44,"s":"chrono mode 5","amp":0},{"t":0.46,"s":"chrono mode 5","amp":-0.65},{"t":0.48,"s":"chrono mode 5","amp":0.4},{"t":0.5,"s":"chrono mode 5","amp":-0.1},{"t":0.52,"s":"chrono mode 5","amp":-0.2},{"t":0.54,"s":"chrono mode 5","amp":0.1},{"t":0.56,"s":"chrono mode 5","amp":-0.4},{"t":0.58,"s":"chrono mode 5","amp":-0.1},{"t":0.6,"s":"chrono mode 5","amp":-0.45},{"t":0.62,"s":"chrono mode 5","amp":0},{"t":0.64,"s":"chrono mode 5","amp":-0.35},{"t":0.66,"s":"chrono mode 5","amp":0.3},{"t":0.68,"s":"chrono mode 5","amp":-0.7},{"t":0.7,"s":"chrono mode 5","amp":-0.2},{"t":0.72,"s":"chrono mode 5","amp":0.1},{"t":0.74,"s":"chrono mode 5","amp":-0.3},{"t":0.76,"s":"chrono mode 5","amp":0.2},{"t":0.78,"s":"chrono mode 5","amp":0},{"t":0.8,"s":"chrono mode 5","amp":-0.05},{"t":0.82,"s":"chrono mode 5","amp":0.1},{"t":0.84,"s":"chrono mode 5","amp":-0.2},{"t":0.86,"s":"chrono mode 5","amp":0},{"t":0.88,"s":"chrono mode 5","amp":0.2},{"t":0.9,"s":"chrono mode 5","amp":0.4},{"t":0.92,"s":"chrono mode 5","amp":-0.15},{"t":0.94,"s":"chrono mode 5","amp":0.3},{"t":0.96,"s":"chrono mode 5","amp":0},{"t":0.98,"s":"chrono mode 5","amp":0.15},{"t":1,"s":"chrono mode 5","amp":-0.05},{"t":1.02,"s":"chrono mode 5","amp":0.1},{"t":1.04,"s":"chrono mode 5","amp":0.2},{"t":1.06,"s":"chrono mode 5","amp":-0.1},{"t":1.08,"s":"chrono mode 5","amp":0.25},{"t":1.1,"s":"chrono mode 5","amp":0},{"t":1.12,"s":"chrono mode 5","amp":0.3},{"t":1.14,"s":"chrono mode 5","amp":-0.2},{"t":1.16,"s":"chrono mode 5","amp":0.35},{"t":1.18,"s":"chrono mode 5","amp":0.1},{"t":1.2,"s":"chrono mode 5","amp":0.55},{"t":1.22,"s":"chrono mode 5","amp":-0.1},{"t":1.24,"s":"chrono mode 5","amp":0.3},{"t":1.26,"s":"chrono mode 5","amp":-0.5},{"t":1.28,"s":"chrono mode 5","amp":-0.7},{"t":1.3,"s":"chrono mode 5","amp":0.3},{"t":1.32,"s":"chrono mode 5","amp":0.1},{"t":1.34,"s":"chrono mode 5","amp":0.48},{"t":1.36,"s":"chrono mode 5","amp":-0.2},{"t":1.38,"s":"chrono mode 5","amp":-0.8},{"t":1.4,"s":"chrono mode 5","amp":0.2},{"t":1.42,"s":"chrono mode 5","amp":-0.15},{"t":1.44,"s":"chrono mode 5","amp":0.35},{"t":1.46,"s":"chrono mode 5","amp":-0.3},{"t":1.48,"s":"chrono mode 5","amp":0.1},{"t":1.5,"s":"chrono mode 5","amp":0.5},{"t":1.52,"s":"chrono mode 5","amp":0.82},{"t":1.54,"s":"chrono mode 5","amp":-0.2},{"t":1.56,"s":"chrono mode 5","amp":0.15},{"t":1.58,"s":"chrono mode 5","amp":0.3},{"t":1.6,"s":"chrono mode 5","amp":0},{"t":1.62,"s":"chrono mode 5","amp":0.35},{"t":1.64,"s":"chrono mode 5","amp":-0.1},{"t":1.66,"s":"chrono mode 5","amp":0.2},{"t":1.68,"s":"chrono mode 5","amp":-0.2},{"t":1.7,"s":"chrono mode 5","amp":0.05},{"t":1.72,"s":"chrono mode 5","amp":-0.35},{"t":1.74,"s":"chrono mode 5","amp":0.15},{"t":1.76,"s":"chrono mode 5","amp":-0.2},{"t":1.78,"s":"chrono mode 5","amp":0.2},{"t":1.8,"s":"chrono mode 5","amp":-0.25},{"t":1.82,"s":"chrono mode 5","amp":-0.3},{"t":1.84,"s":"chrono mode 5","amp":0.1},{"t":1.86,"s":"chrono mode 5","amp":-0.05},{"t":1.88,"s":"chrono mode 5","amp":0.2},{"t":1.9,"s":"chrono mode 5","amp":-0.57},{"t":1.92,"s":"chrono mode 5","amp":-0.1},{"t":1.94,"s":"chrono mode 5","amp":0.25},{"t":1.96,"s":"chrono mode 5","amp":0.05},{"t":1.98,"s":"chrono mode 5","amp":0},{"t":2,"s":"chrono mode 5","amp":0}
]
},
"config": {
"font": "Liberation Sans",
"view": {"stroke": "black", "strokeWidth": 1.2},
"axis": {"labelFont": "Liberation Sans", "labelFontSize": 9, "labelColor": "black", "titleFont": "Liberation Sans", "titleFontSize": 13, "titleFontWeight": "normal", "titleColor": "black", "gridDash": [1, 2], "gridColor": "#999999", "gridWidth": 0.8, "domain": false, "ticks": false, "labelPadding": 3, "titlePadding": 2, "labelOverlap": false, "labelExpr": "replace(format(datum.value, '~g'), '−', '-')"},
"title": {"font": "Liberation Serif", "fontSize": 26, "fontWeight": "normal", "orient": "bottom", "anchor": "middle", "frame": "bounds", "color": "black", "offset": 14},
"legend": {"labelFont": "Liberation Sans", "labelColor": "black", "strokeColor": "black", "fillColor": "white", "title": null}
},
"spacing": 4,
"resolve": {"scale": {"color": "independent"}, "legend": {"color": "independent"}},
"vconcat": [
{"spacing": 48, "bounds": "flush", "resolve": {"scale": {"color": "independent"}, "legend": {"color": "independent"}}, "hconcat": [
{"width": 242, "height": 192, "title": "(a) constant",
 "layer": [
  {"data": {"name": "psdA"}, "mark": {"type": "line", "strokeWidth": 1.5, "clip": true},
   "encoding": {
    "x": {"field": "f", "type": "quantitative", "scale": {"domain": [0, 1500]}, "axis": {"values": [0, 500, 1000, 1500], "tickCount": 20, "title": "f (Hz)"}},
    "y": {"field": "psd", "type": "quantitative", "scale": {"domain": [0, 0.25]}, "axis": {"values": [0, 0.05, 0.1, 0.15, 0.2, 0.25], "tickCount": 20, "title": "PSD", "titlePadding": 1}},
    "color": {"field": "mode", "type": "nominal", "scale": {"domain": ["mode 5", "mode 4", "mode 3", "mode 2", "mode 1"], "range": ["#d84848", "#e60000", "#ff5a1e", "#ff9b3c", "#ffbe0a"]},
     "legend": {"orient": "top-right", "offset": 2, "symbolType": "M-1.5,0H1.5", "symbolSize": 100, "symbolStrokeWidth": 2, "labelFontSize": 9, "rowPadding": 0.5, "padding": 3, "labelOffset": 5}}}},
  {"data": {"name": "notes"}, "transform": [{"filter": "datum.panel === 'a' && datum.style === 'r'"}],
   "mark": {"type": "text", "font": "Liberation Serif", "fontSize": 20, "align": "left", "baseline": "alphabetic", "color": "black"},
   "encoding": {"x": {"field": "f", "type": "quantitative"}, "y": {"field": "psd", "type": "quantitative"}, "text": {"field": "label"}}},
  {"data": {"name": "notes"}, "transform": [{"filter": "datum.panel === 'a' && datum.style === 'i'"}],
   "mark": {"type": "text", "font": "Liberation Serif", "fontSize": 20, "fontStyle": "italic", "align": "left", "baseline": "alphabetic", "color": "black"},
   "encoding": {"x": {"field": "f", "type": "quantitative"}, "y": {"field": "psd", "type": "quantitative"}, "text": {"field": "label"}}}
 ]},
{"width": 244, "height": 192, "title": "(b) pulsed",
 "layer": [
  {"data": {"name": "psdB"}, "mark": {"type": "line", "strokeWidth": 1.5, "clip": true},
   "encoding": {
    "x": {"field": "f", "type": "quantitative", "scale": {"domain": [0, 1500]}, "axis": {"values": [0, 500, 1000, 1500], "tickCount": 20, "title": "f (Hz)"}},
    "y": {"field": "psd", "type": "quantitative", "scale": {"domain": [0, 0.25]}, "axis": {"values": [0, 0.05, 0.1, 0.15, 0.2, 0.25], "tickCount": 20, "title": "PSD", "titlePadding": 1}},
    "color": {"field": "mode", "type": "nominal", "scale": {"domain": ["mode 5", "mode 4", "mode 3", "mode 2", "mode 1"], "range": ["#d84848", "#e60000", "#ff5a1e", "#ff9b3c", "#ffbe0a"]},
     "legend": {"orient": "top-right", "offset": 2, "symbolType": "M-1.5,0H1.5", "symbolSize": 100, "symbolStrokeWidth": 2, "labelFontSize": 9, "rowPadding": 0.5, "padding": 3, "labelOffset": 5}}}},
  {"data": {"name": "notes"}, "transform": [{"filter": "datum.panel === 'b' && datum.style === 'r'"}],
   "mark": {"type": "text", "font": "Liberation Serif", "fontSize": 20, "align": "left", "baseline": "alphabetic", "color": "black"},
   "encoding": {"x": {"field": "f", "type": "quantitative"}, "y": {"field": "psd", "type": "quantitative"}, "text": {"field": "label"}}},
  {"data": {"name": "notes"}, "transform": [{"filter": "datum.panel === 'b' && datum.style === 'i'"}],
   "mark": {"type": "text", "font": "Liberation Serif", "fontSize": 20, "fontStyle": "italic", "align": "left", "baseline": "alphabetic", "color": "black"},
   "encoding": {"x": {"field": "f", "type": "quantitative"}, "y": {"field": "psd", "type": "quantitative"}, "text": {"field": "label"}}}
 ]}
]},
{"spacing": 44, "bounds": "flush", "resolve": {"scale": {"color": "independent"}, "legend": {"color": "independent"}}, "hconcat": [
{"width": 248, "height": 194, "title": {"text": "(c) chrono mode 1 and 2", "offset": 11}, "data": {"name": "chronoC"},
 "encoding": {
  "x": {"field": "t", "type": "quantitative", "scale": {"domain": [0, 2]}, "axis": {"values": [0, 0.25, 0.5, 0.75, 1, 1.25, 1.5, 1.75, 2], "tickCount": 20, "title": "time t/τ (–)", "labelPadding": 2, "titlePadding": 1}},
  "y": {"field": "amp", "type": "quantitative", "scale": {"domain": [-1, 1]}, "axis": {"values": [-1, -0.75, -0.5, -0.25, 0, 0.25, 0.5, 0.75, 1], "tickCount": 20, "title": "chrono mode amplitude", "labelPadding": 2, "titlePadding": 11}}
 },
 "layer": [
  {"transform": [{"filter": "datum.s === 'chrono mode 1'"}], "mark": {"type": "line", "strokeWidth": 1},
   "encoding": {"color": {"field": "s", "type": "nominal", "scale": {"domain": ["chrono mode 1", "chrono mode 2"], "range": ["#ff0000", "#000000"]},
    "legend": {"orient": "bottom-right", "offset": 3, "symbolType": "stroke", "symbolSize": 121, "symbolStrokeWidth": 1, "labelFontSize": 11, "rowPadding": 1, "padding": 3, "labelOffset": 6,
     "encode": {"symbols": {"update": {"shape": {"signal": "datum.index === 0 ? 'M-1.6,0H1.6M-0.55,-0.45H0.55L0,0.5Z' : 'M-1.6,0H1.6M0.4,0A0.4,0.4,0,1,1,-0.4,0A0.4,0.4,0,1,1,0.4,0'"}, "fill": {"signal": "datum.index === 0 ? '#ff0000' : '#555555'"}}}}}}}},
  {"transform": [{"filter": "datum.s === 'chrono mode 1'"}], "mark": {"type": "point", "shape": "triangle-down", "filled": true, "size": 20, "color": "#ff0000", "opacity": 1}},
  {"transform": [{"filter": "datum.s === 'chrono mode 2'"}], "mark": {"type": "line", "strokeWidth": 1},
   "encoding": {"color": {"field": "s", "type": "nominal"}}},
  {"transform": [{"filter": "datum.s === 'chrono mode 2'"}], "mark": {"type": "point", "shape": "circle", "filled": false, "size": 14, "color": "#000000", "strokeWidth": 0.9, "opacity": 1}}
 ]},
{"width": 244, "height": 194, "title": {"text": "(d) chrono mode 4 and 5", "offset": 11}, "data": {"name": "chronoD"},
 "encoding": {
  "x": {"field": "t", "type": "quantitative", "scale": {"domain": [0, 2]}, "axis": {"values": [0, 0.25, 0.5, 0.75, 1, 1.25, 1.5, 1.75, 2], "tickCount": 20, "title": "time t/τ (–)", "labelPadding": 2, "titlePadding": 1}},
  "y": {"field": "amp", "type": "quantitative", "scale": {"domain": [-1, 1]}, "axis": {"values": [-1, -0.75, -0.5, -0.25, 0, 0.25, 0.5, 0.75, 1], "tickCount": 20, "title": "chrono mode amplitude", "labelPadding": 2, "titlePadding": 6}}
 },
 "layer": [
  {"transform": [{"filter": "datum.s === 'chrono mode 4'"}], "mark": {"type": "line", "strokeWidth": 1},
   "encoding": {"color": {"field": "s", "type": "nominal", "scale": {"domain": ["chrono mode 4", "chrono mode 5"], "range": ["#ff0000", "#000000"]},
    "legend": {"orient": "bottom-left", "offset": 3, "symbolType": "stroke", "symbolSize": 121, "symbolStrokeWidth": 1, "labelFontSize": 11, "rowPadding": 1, "padding": 3, "labelOffset": 6,
     "encode": {"symbols": {"update": {"shape": {"signal": "datum.index === 0 ? 'M-1.6,0H1.6M-0.55,-0.45H0.55L0,0.5Z' : 'M-1.6,0H1.6M0.4,0A0.4,0.4,0,1,1,-0.4,0A0.4,0.4,0,1,1,0.4,0'"}, "fill": {"signal": "datum.index === 0 ? '#ff0000' : 'transparent'"}}}}}}}},
  {"transform": [{"filter": "datum.s === 'chrono mode 4'"}], "mark": {"type": "point", "shape": "triangle-down", "filled": true, "size": 20, "color": "#ff0000", "opacity": 1}},
  {"transform": [{"filter": "datum.s === 'chrono mode 5'"}], "mark": {"type": "line", "strokeWidth": 1},
   "encoding": {"color": {"field": "s", "type": "nominal"}}},
  {"transform": [{"filter": "datum.s === 'chrono mode 5'"}], "mark": {"type": "point", "shape": "circle", "filled": false, "size": 14, "color": "#000000", "strokeWidth": 0.9, "opacity": 1}}
 ]}
]}
]
}
